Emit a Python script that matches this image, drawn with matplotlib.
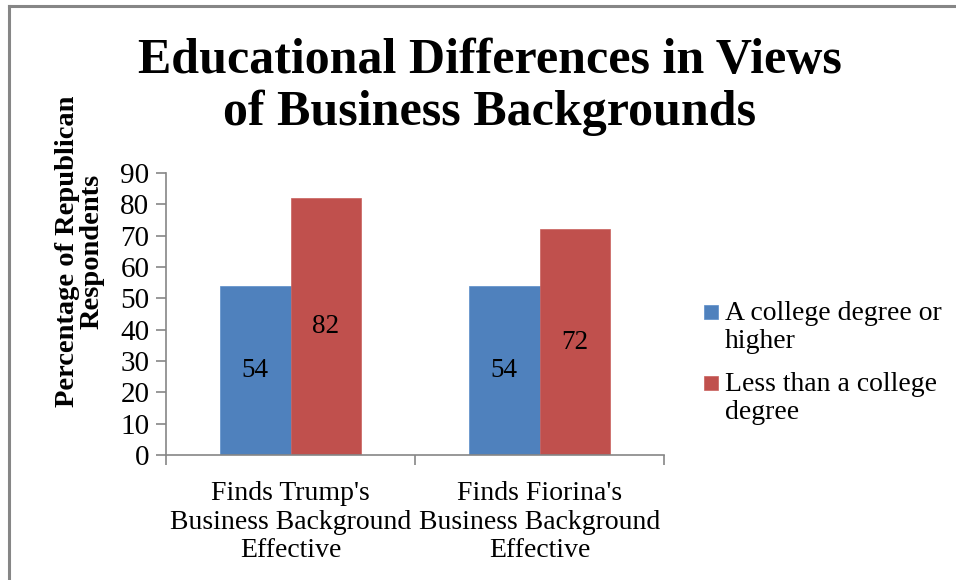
import matplotlib.pyplot as plt
from matplotlib.lines import Line2D
from matplotlib.patches import Rectangle
from matplotlib.legend_handler import HandlerPatch, update_from_first_child
import numpy as np

categories = ["Finds Trump's\nBusiness Background\nEffective",
              "Finds Fiorina's\nBusiness Background\nEffective"]
college = [54, 54]
no_college = [82, 72]
series_names = ['A college degree or\nhigher', 'Less than a college\ndegree']

plt.rcParams['font.family'] = ['Liberation Serif', 'DejaVu Serif']

fig = plt.figure(figsize=(9.56, 5.80), dpi=100)
# grey chart frame (top and left edges only)
fig.add_artist(Line2D([9/956, 9/956], [0, 1 - 6/580], color='#868686', lw=2.2))
fig.add_artist(Line2D([9/956, 1], [1 - 6/580, 1 - 6/580], color='#868686', lw=2.2))

ax = fig.add_axes([166/956, 1 - 455/580, (664 - 166)/956, (455 - 173)/580])

x = np.arange(len(categories))
w = 0.285
b1 = ax.bar(x - w/2, college, w, color='#4f81bd', edgecolor='#5b8dc9', lw=0.5,
            label=series_names[0])
b2 = ax.bar(x + w/2, no_college, w, color='#c0504d', edgecolor='#c9605d', lw=0.5,
            label=series_names[1])
for bars in (b1, b2):
    ax.bar_label(bars, label_type='center', fontsize=19.5)

ax.set_xlim(-0.5, 1.5)
ax.set_ylim(0, 90)
ax.set_yticks(range(0, 91, 10))
ax.set_xticks([-0.5, 0.5, 1.5], minor=False)
ax.set_xticklabels([])
ax.set_xticks(x, minor=True)
ax.set_xticklabels(categories, minor=True, fontsize=20, linespacing=1.17)
ax.tick_params(axis='x', which='minor', length=0, pad=19)
ax.tick_params(axis='x', which='major', length=7, direction='out', color='#868686', width=1.2)
ax.tick_params(axis='y', length=7, direction='out', color='#868686', width=1.2,
               labelsize=21, pad=5)
for s in ('top', 'right'):
    ax.spines[s].set_visible(False)
for s in ('left', 'bottom'):
    ax.spines[s].set_color('#868686')
    ax.spines[s].set_linewidth(1.2)

fig.text(80/956, 1 - 251/580, 'Percentage of Republican\nRespondents', rotation=90,
         ha='center', va='center', fontsize=20.5, fontweight='bold', linespacing=1.0)

fig.text(490/956, 1 - 87/580, 'Educational Differences in Views\nof Business Backgrounds',
         ha='center', va='center', fontsize=36, fontweight='bold', linespacing=1.17)


# small square key sitting beside the first line of each legend label
def top_square(legend, orig_handle, xdescent, ydescent, width, height, fontsize):
    s = 0.5 * fontsize
    return Rectangle((-xdescent, -ydescent + height - s), s, s)


key = HandlerPatch(patch_func=top_square, update_func=update_from_first_child)
leg = fig.legend(loc='upper left', bbox_to_anchor=(693/956, 1 - 290/580), frameon=False,
                 fontsize=20, handlelength=0.5, handleheight=2.2, handletextpad=0.25,
                 labelspacing=0.65, borderaxespad=0,
                 handler_map={b1: key, b2: key})
for t in leg.get_texts():
    t.set_linespacing(1.15)

fig.savefig('out.png', dpi=100)
